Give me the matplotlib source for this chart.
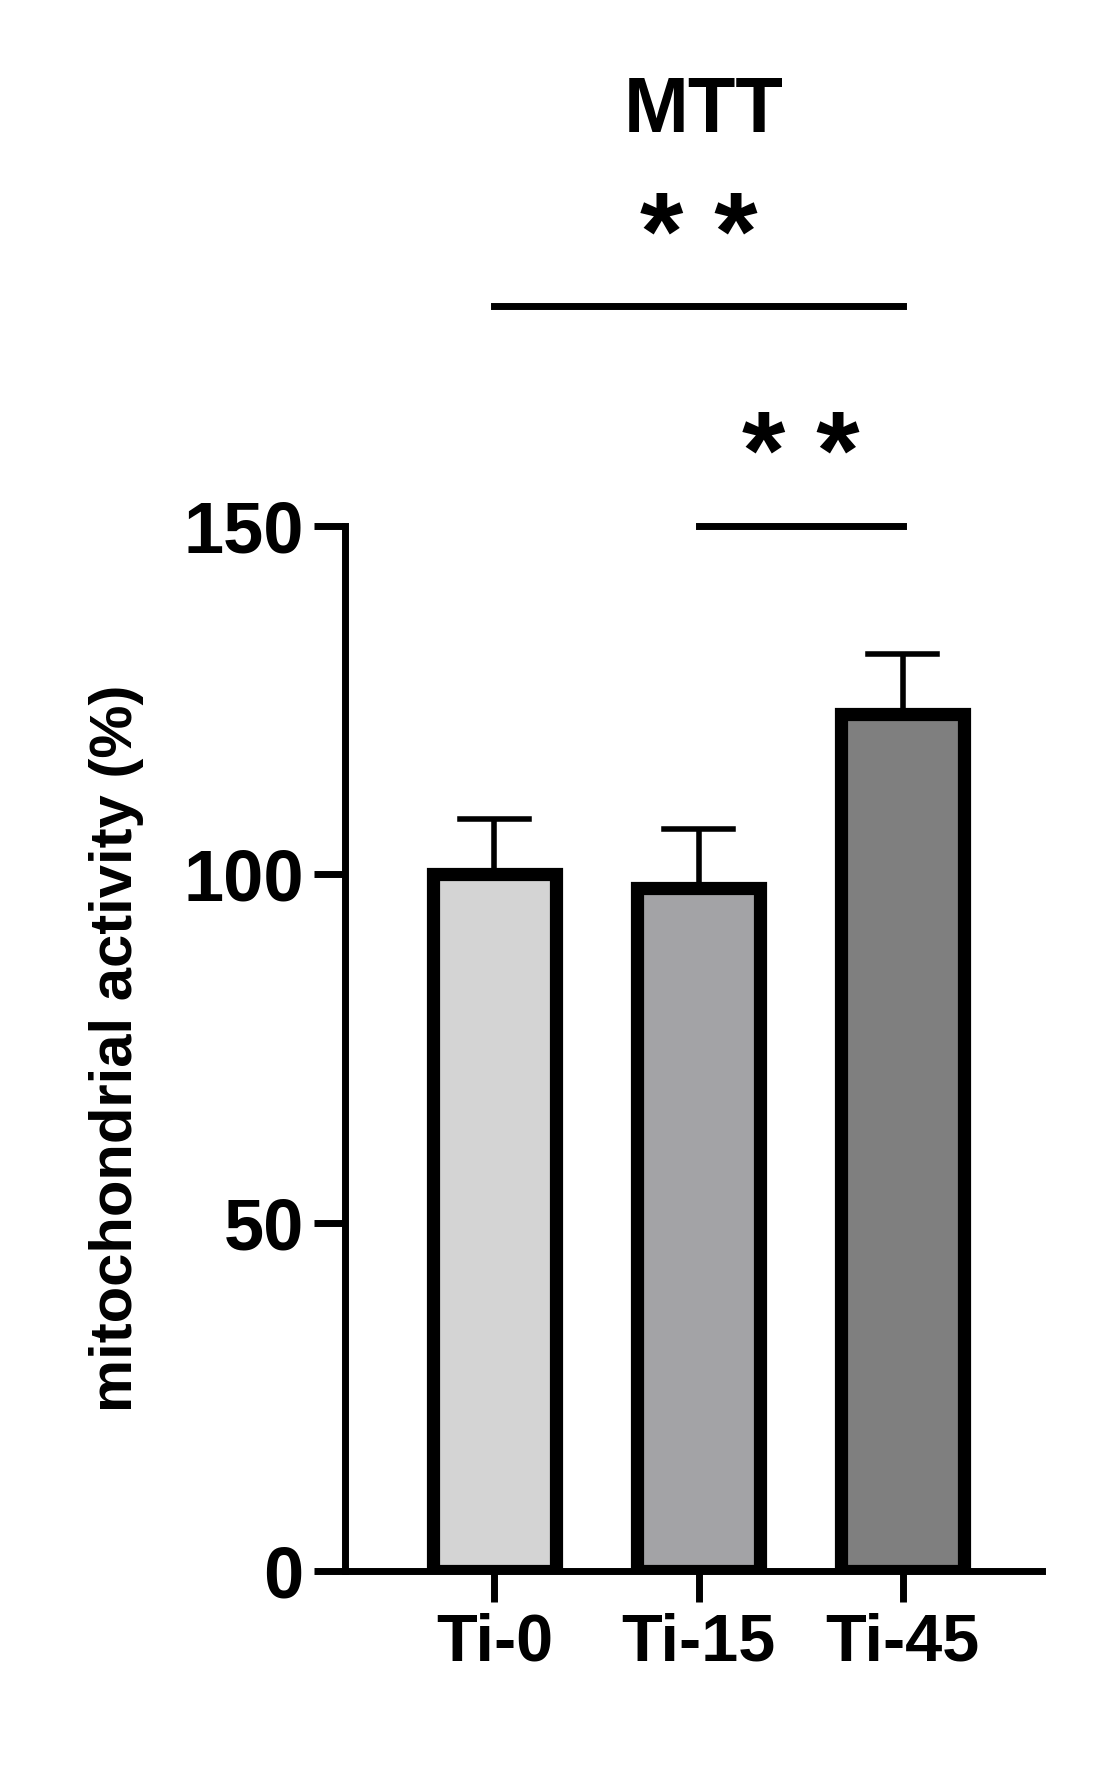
import matplotlib
matplotlib.use("Agg")
import matplotlib.pyplot as plt

categories = ["Ti-0", "Ti-15", "Ti-45"]
means = [100, 98, 123]
errors = [8, 8.5, 8.7]
colors = ["#d4d4d4", "#a3a3a6", "#7f7f7f"]
yticks = [0, 50, 100, 150]

plt.rcParams['font.family'] = ['Liberation Sans', 'DejaVu Sans']
plt.rcParams['font.weight'] = 'bold'

fig = plt.figure(figsize=(11.14, 17.72), dpi=100)
ax = fig.add_axes([0.31, 0.1134, 0.625, 0.5897])
x = list(range(len(categories)))
ax.bar(x, means, width=0.6, color=colors, edgecolor='black', linewidth=9.5, zorder=3)
for xi, m, e in zip(x, means, errors):
    ax.plot([xi, xi], [m, m + e], color='black', lw=4, zorder=2, solid_capstyle='butt')
    ax.plot([xi - 0.17, xi + 0.17], [m + e, m + e], color='black', lw=4, zorder=2)
ax.set_xlim(-0.73, 2.68)
ax.set_ylim(0, 150)
ax.set_yticks(yticks)
ax.set_xticks(x)
ax.set_xticklabels(categories, fontsize=48, fontweight='bold')
ax.tick_params(axis='y', labelsize=52, width=5, length=22, pad=8)
ax.tick_params(axis='x', width=5, length=22, pad=8)
for lab in ax.get_yticklabels():
    lab.set_fontweight('bold')
for s in ['top', 'right']:
    ax.spines[s].set_visible(False)
for s in ['left', 'bottom']:
    ax.spines[s].set_linewidth(5)
ax.set_ylabel("mitochondrial activity (%)", fontsize=43, fontweight='bold', labelpad=28)

# significance bars
ax.plot([0, 2], [181.6, 181.6], color='black', lw=5, clip_on=False)
ax.text(1, 183.5, "* *", ha='center', va='bottom', fontsize=80, fontweight='bold')
ax.plot([1, 2], [150, 150], color='black', lw=5, clip_on=False)
ax.text(1.5, 152, "* *", ha='center', va='bottom', fontsize=80, fontweight='bold')

fig.text(0.632, 0.937, "MTT", ha='center', va='center', fontsize=56, fontweight='bold')
fig.savefig("out.png", dpi=100)
